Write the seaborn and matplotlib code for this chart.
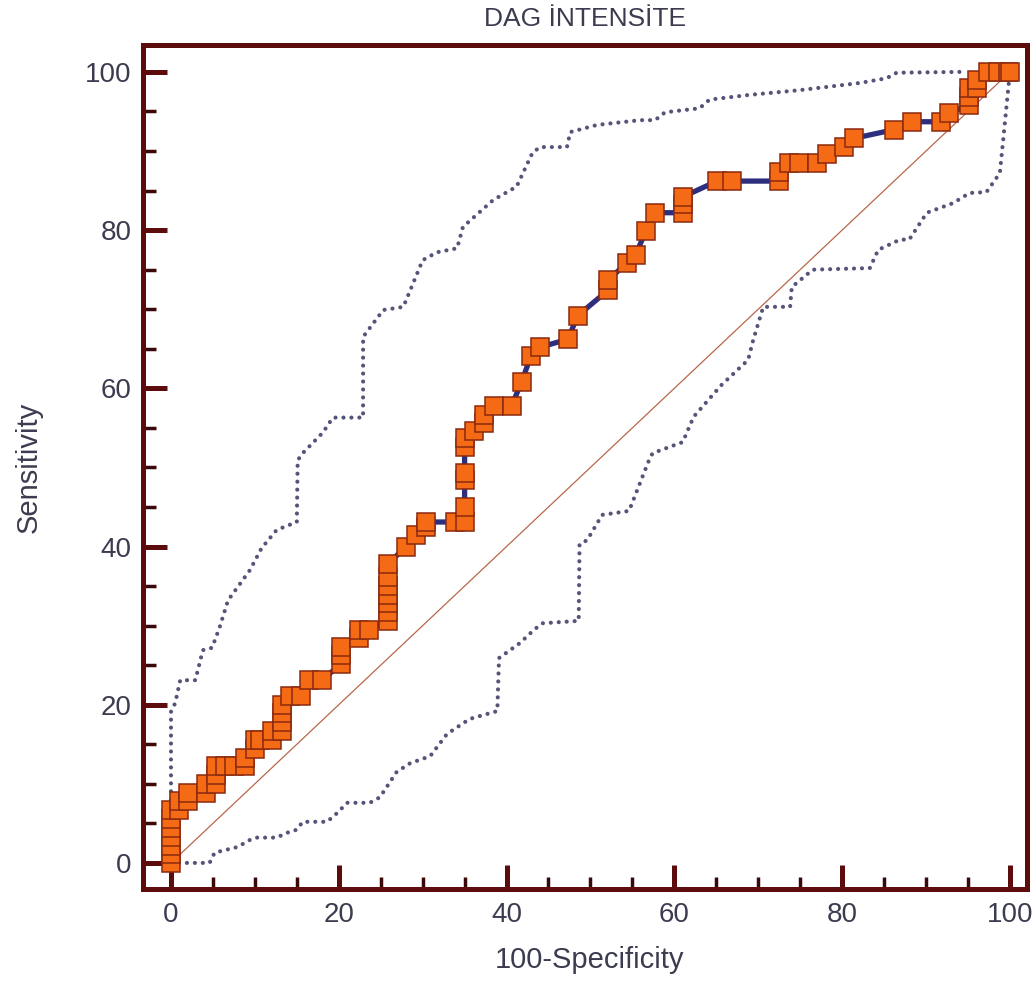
import numpy as np
import pandas as pd
import seaborn as sns
import matplotlib.pyplot as plt
from matplotlib.ticker import MultipleLocator

# ROC points (100-specificity, sensitivity)
roc_x = [0, 0, 0, 0, 0, 0, 0, 1.0, 1.0, 2.0, 2.0, 4.2, 4.2, 5.4, 5.4, 5.4,
         6.4, 7.5, 8.8, 8.8, 10.0, 10.0, 10.6, 12.0, 12.0, 13.2, 13.2, 13.2, 13.2,
         14.2, 15.5, 16.5, 18.0, 20.3, 20.3, 20.3, 22.4, 22.4, 23.6,
         25.9, 25.9, 25.9, 25.9, 25.9, 25.9, 25.9, 28.0, 29.2, 30.4, 30.4,
         33.8, 35.0, 35.0, 35.0, 35.0, 35.0, 35.0, 36.1, 37.3, 37.3, 38.5, 40.6,
         41.8, 42.9, 44.0, 47.3, 48.5, 52.1, 52.1, 54.4, 55.4, 56.6, 57.7,
         61.0, 61.0, 61.0, 65.1, 66.9, 72.5, 72.5, 73.7, 74.9, 77.0, 78.2,
         80.2, 81.4, 86.2, 88.3, 91.8, 92.8, 95.1, 95.1, 95.1, 96.1, 96.1,
         97.4, 98.6, 99.8, 100]
roc_y = [0, 1.1, 2.2, 3.3, 4.4, 5.6, 6.7, 6.7, 7.8, 7.8, 8.9, 8.9, 10.0, 10.0, 11.1, 12.2,
         12.2, 12.2, 12.2, 13.3, 14.4, 15.6, 15.6, 15.6, 16.7, 16.7, 17.8, 18.9, 20.0,
         21.1, 21.1, 23.1, 23.1, 25.2, 26.3, 27.3, 28.4, 29.5, 29.5,
         30.6, 31.7, 32.8, 33.9, 35.0, 36.1, 37.8, 40.0, 41.5, 42.5, 43.1,
         43.1, 43.1, 45.0, 48.4, 49.3, 52.6, 53.7, 54.6, 55.6, 56.6, 57.8, 57.8,
         60.8, 64.1, 65.2, 66.2, 69.2, 72.4, 73.7, 75.9, 76.9, 79.9, 82.2,
         82.2, 83.3, 84.2, 86.2, 86.2, 86.2, 87.4, 88.5, 88.5, 88.5, 89.6,
         90.5, 91.6, 92.7, 93.7, 93.7, 94.8, 95.8, 96.8, 98.0, 98.0, 99.0,
         100, 100, 100, 100]

# upper confidence bound
up_x = [0, 0, 0.5, 1.1, 2.9, 3.8, 4.9, 5.8, 6.8, 9.4, 10.8, 12.6, 15.0, 15.1, 15.7,
        18.1, 19.3, 22.9, 22.9, 25.3, 27.7, 30.0, 31.7, 34.1, 34.8, 38.4, 41.2,
        43.1, 44.0, 47.2, 47.6, 50.8, 55.9, 57.7, 58.9, 63.0, 64.2, 69.0, 75.0,
        82.1, 85.3, 86.5, 94.0]
up_y = [0, 19.1, 20.2, 23.1, 23.1, 26.9, 27.2, 29.8, 33.2, 37.0, 39.8, 42.1, 43.1, 50.9, 51.8,
        54.4, 56.3, 56.3, 66.5, 69.9, 70.3, 76.2, 77.2, 77.7, 80.4, 83.8, 85.5,
        89.8, 90.5, 90.5, 92.4, 93.3, 93.9, 93.9, 94.9, 95.4, 96.5, 97.1, 97.7,
        98.6, 99.2, 99.9, 100]

# lower confidence bound
lo_x = [0, 4.6, 5.2, 7.9, 9.4, 10.2, 12.6, 13.8, 15.0, 15.7, 18.6, 19.8, 21.0, 23.7,
        24.9, 26.9, 28.5, 30.9, 32.9, 35.6, 38.9, 39.1, 41.6, 43.3, 44.3, 48.6, 48.7,
        49.6, 51.4, 54.6, 56.9, 57.4, 61.0, 62.3, 65.6, 68.8, 69.4, 70.6, 73.8, 74.0,
        76.5, 83.3, 84.3, 86.9, 88.0, 90.1, 93.2, 95.2, 97.2, 98.8, 99.2, 100]
lo_y = [0, 0, 1.3, 2.0, 2.9, 3.2, 3.2, 3.8, 4.2, 5.2, 5.2, 6.3, 7.6, 7.6,
        8.3, 11.5, 12.6, 13.5, 16.3, 18.2, 19.2, 25.9, 27.8, 29.5, 30.3, 30.6, 40.3,
        40.8, 44.0, 44.5, 50.7, 51.8, 53.2, 56.4, 60.4, 63.6, 66.1, 70.3, 70.3, 72.8,
        75.0, 75.2, 77.5, 78.8, 78.8, 82.2, 83.4, 84.7, 84.8, 87.2, 91.4, 100]

diag = [0, 100]

sns.set_theme(style="white")
plt.rcParams['font.family'] = ['Liberation Sans', 'DejaVu Sans']

frame = '#5c0c0c'
txt = '#3c3c50'

fig = plt.figure(figsize=(10.36, 9.83), dpi=100)
ax = fig.add_axes([0.138, 0.0956, 0.853, 0.8586])

roc = pd.DataFrame({'fpr': roc_x, 'tpr': roc_y})
upper = pd.DataFrame({'fpr': up_x, 'tpr': up_y})
lower = pd.DataFrame({'fpr': lo_x, 'tpr': lo_y})

ax.plot(diag, diag, color='#b8674a', lw=0.9, zorder=2)

for d in (upper, lower):
    sns.lineplot(data=d, x='fpr', y='tpr', estimator=None, sort=False, ax=ax,
                 color='#55557a', lw=3.0, dashes=False, zorder=3)
for line in ax.lines[1:]:
    line.set_linestyle((0, (0.01, 1.9)))
    line.set_dash_capstyle('round')

sns.lineplot(data=roc, x='fpr', y='tpr', estimator=None, sort=False, ax=ax,
             color='#2e2e7e', lw=3.8, marker='s', markersize=13.5,
             markerfacecolor='#f56a14', markeredgecolor='#8a2a10',
             markeredgewidth=1.1, zorder=4)

ax.set_xlim(-3.34, 102.0)
ax.set_ylim(-3.3, 103.4)

for s in ax.spines.values():
    s.set_visible(True)
    s.set_color(frame)
    s.set_linewidth(3.6)

ax.xaxis.set_major_locator(MultipleLocator(20))
ax.yaxis.set_major_locator(MultipleLocator(20))
ax.xaxis.set_minor_locator(MultipleLocator(5))
ax.yaxis.set_minor_locator(MultipleLocator(5))
ax.tick_params(which='major', direction='in', length=17, width=3.6, color=frame,
               labelsize=20, labelcolor=txt, top=False, right=False,
               bottom=True, left=True)
ax.tick_params(axis='x', which='major', pad=9)
ax.tick_params(axis='y', which='major', pad=8)
ax.tick_params(which='minor', direction='in', length=9, width=2.5, color='#3a0808',
               top=False, right=False, bottom=True, left=True)

ax.set_xlabel('100-Specificity', fontsize=21, color=txt)
ax.set_ylabel('Sensitivity', fontsize=21, color=txt)
ax.xaxis.set_label_coords(0.505, -0.068)
ax.yaxis.set_label_coords(-0.114, 0.5)
ax.set_title('DAG İNTENSİTE', fontsize=19, color=txt, pad=14)

fig.savefig('out.png', dpi=100, facecolor='white')
